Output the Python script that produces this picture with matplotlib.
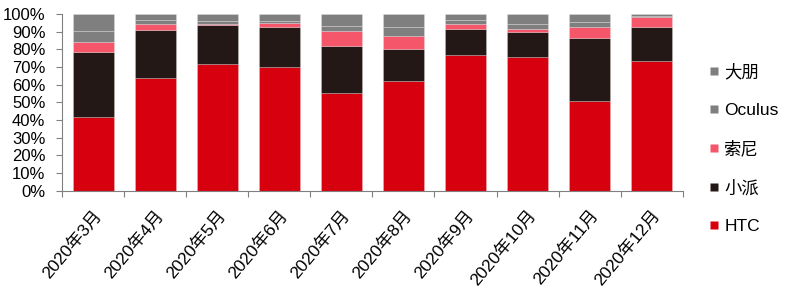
import matplotlib
matplotlib.use("Agg")
import matplotlib.pyplot as plt
from matplotlib.lines import Line2D
import numpy as np

plt.rcParams['font.family'] = ['Liberation Sans', 'Noto Sans CJK SC']

months = ["2020年3月", "2020年4月", "2020年5月", "2020年6月", "2020年7月",
          "2020年8月", "2020年9月", "2020年10月", "2020年11月", "2020年12月"]
htc    = [42.0, 64.0, 71.9, 70.0, 55.5, 61.9, 76.8, 75.8, 50.8, 73.6]
xiaopai= [36.3, 26.9, 21.9, 22.5, 26.2, 18.1, 14.9, 13.8, 35.8, 18.9]
sony   = [5.7, 3.4, 0.4, 2.6, 8.5, 7.6, 2.6, 1.7, 5.9, 5.6]
oculus = [6.5, 2.5, 2.0, 1.0, 3.0, 5.0, 2.0, 3.0, 3.0, 1.0]
dapeng = [9.5, 3.2, 3.8, 3.9, 6.8, 7.4, 3.7, 5.7, 4.5, 0.9]

series = [("HTC", htc, "#D6000F"), ("小派", xiaopai, "#231815"),
          ("索尼", sony, "#F5566A"), ("Oculus", oculus, "#7F7F7F"),
          ("大朋", dapeng, "#7F7F7F")]
yticks = [0, 10, 20, 30, 40, 50, 60, 70, 80, 90, 100]

fig = plt.figure(figsize=(8, 2.9), dpi=100)
ax = fig.add_axes([0.0775, 0.342, 0.776, 0.610])

x = np.arange(len(months))
bottom = np.zeros(len(months))
for name, vals, col in series:
    v = np.array(vals)
    ax.bar(x, v, width=0.66, bottom=bottom, color=col, edgecolor=(1, 1, 1, 0.3),
           linewidth=0.5)
    bottom += v

ax.set_xlim(-0.5, len(months) - 0.5)
ax.set_ylim(0, 100)
ax.set_yticks(yticks)
ax.set_yticklabels([f"{t}%" for t in yticks], fontsize=12)
ax.set_xticks(x)
ax.set_xticklabels(months, rotation=50, ha='right', rotation_mode='anchor', fontsize=12.5)
ax.set_xticks(np.arange(len(months) + 1) - 0.5, minor=True)
ax.tick_params(axis='x', which='major', length=0, pad=12)
ax.tick_params(axis='x', which='minor', length=4, width=0.8, color="#808080", direction='out')
ax.tick_params(axis='y', length=4, width=0.8, color="#808080", direction='out', pad=8)
for s in ['top', 'right']:
    ax.spines[s].set_visible(False)
for s in ['left', 'bottom']:
    ax.spines[s].set_color("#808080")
    ax.spines[s].set_linewidth(0.8)

handles = [Line2D([], [], marker='s', linestyle='none', markersize=6,
                  markerfacecolor=col, markeredgecolor='none') for _, _, col in series]
labels = [name for name, _, _ in series]
leg = fig.legend(handles[::-1], labels[::-1], loc='upper left',
                 bbox_to_anchor=(0.877, 0.805), frameon=False, fontsize=12.5,
                 labelspacing=1.3, handlelength=0.6, handletextpad=0.3,
                 borderaxespad=0)

fig.savefig("out.png", dpi=100)
